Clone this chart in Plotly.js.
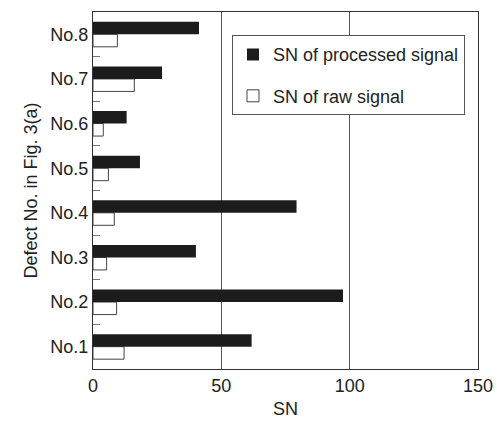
<!DOCTYPE html>
<html>
<head>
<meta charset="utf-8">
<script src="https://cdn.plot.ly/plotly-3.0.1.min.js"></script>
<style>html,body{margin:0;padding:0;background:#fff;}#chart{width:497px;height:423px;}</style>
</head>
<body>
<div id="chart"></div>
<script>
var categories = ["No.1", "No.2", "No.3", "No.4", "No.5", "No.6", "No.7", "No.8"];
var processedSN = [61.8, 97.4, 40.1, 79.3, 18.3, 13.1, 26.9, 41.3];
var rawSN = [12.1, 9.2, 5.3, 8.3, 6.0, 4.0, 16.1, 9.5];
var xTicks = [0, 50, 100, 150];

var traces = [
  {
    type: "bar", orientation: "h", name: "SN of raw signal",
    y: categories, x: rawSN, legendgroup: "b", legendrank: 2,
    marker: {color: "#ffffff", line: {color: "#444", width: 1}}
  },
  {
    type: "bar", orientation: "h", name: "SN of processed signal",
    y: categories, x: processedSN, legendgroup: "a", legendrank: 1,
    marker: {color: "#1c1c1c", line: {color: "#1c1c1c", width: 0}}
  }
];

var layout = {
  width: 497, height: 423,
  margin: {l: 93, r: 19, t: 12, b: 54},
  paper_bgcolor: "#fff", plot_bgcolor: "#fff",
  font: {family: "Liberation Sans, Arial, sans-serif", size: 18, color: "#222"},
  barmode: "group", bargap: 0.44, bargroupgap: 0,
  showlegend: true,
  legend: {
    x: 0.361, y: 0.935, xanchor: "left", yanchor: "top",
    bordercolor: "#555", borderwidth: 1, bgcolor: "#fff",
    font: {size: 18, color: "#222"},
    traceorder: "grouped", tracegroupgap: 15,
    itemwidth: 30
  },
  xaxis: {
    range: [0, 150], tickvals: xTicks, ticktext: xTicks.map(String),
    showline: true, linecolor: "#333", linewidth: 1, mirror: true,
    showgrid: true, gridcolor: "#555", gridwidth: 1, zeroline: false,
    ticks: "", title: {text: "SN", font: {size: 18}, standoff: 7}
  },
  yaxis: {
    type: "category", categoryorder: "array", categoryarray: categories,
    range: [-0.5, 7.5],
    showline: true, linecolor: "#333", linewidth: 1, mirror: true,
    tickson: "boundaries", ticks: "inside", ticklen: 7, tickcolor: "#777",
    showgrid: false, zeroline: false,
    title: {text: "Defect No. in Fig. 3(a)", font: {size: 18}, standoff: 8}
  }
};

Plotly.newPlot("chart", traces, layout, {displayModeBar: false, staticPlot: true});
</script>
</body>
</html>
